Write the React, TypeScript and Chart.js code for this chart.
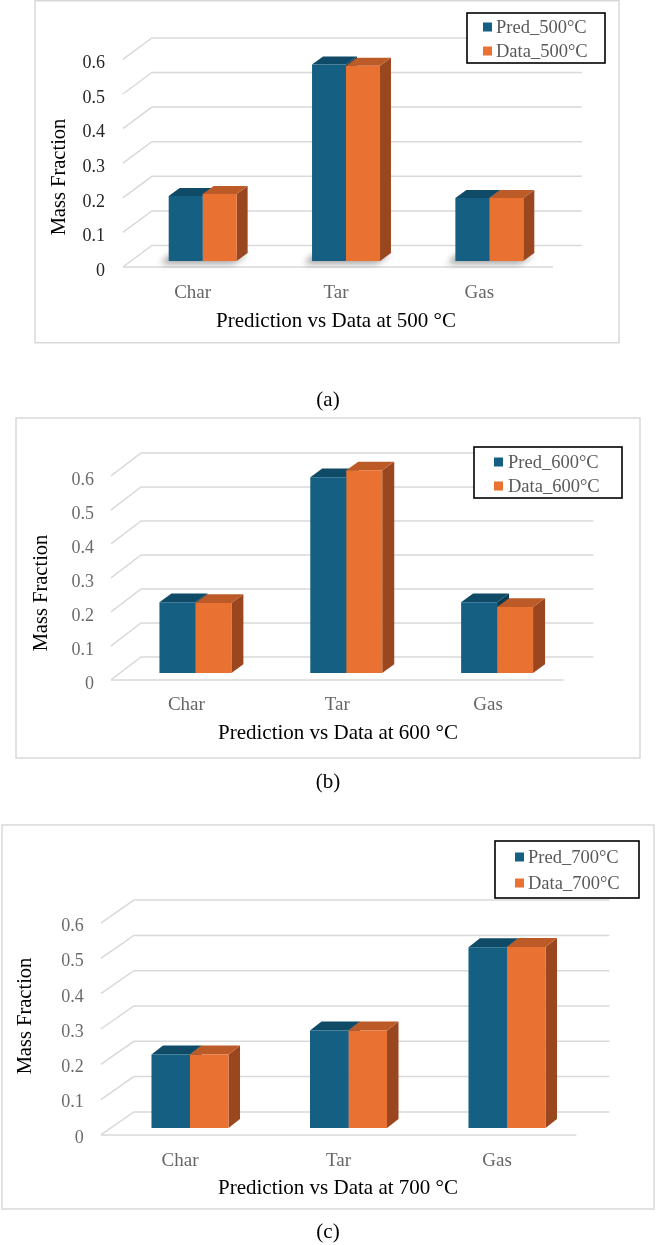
import React, { useEffect, useRef } from 'react';
import { Chart, registerables } from 'chart.js';

Chart.register(...registerables);

const FONT = '"Liberation Serif", "Times New Roman", serif';

// ---------- data ----------
const categories = ['Char', 'Tar', 'Gas'];
const yTickLabels = ['0', '0.1', '0.2', '0.3', '0.4', '0.5', '0.6'];
const yTitle = 'Mass Fraction';

const series500 = ['Pred_500°C', 'Data_500°C'];
const pred500 = [0.188, 0.568, 0.182];
const data500 = [0.194, 0.564, 0.182];

const series600 = ['Pred_600°C', 'Data_600°C'];
const pred600 = [0.208, 0.576, 0.208];
const data600 = [0.206, 0.596, 0.194];

const series700 = ['Pred_700°C', 'Data_700°C'];
const pred700 = [0.208, 0.276, 0.512];
const data700 = [0.208, 0.276, 0.513];

const xTitles = [
  'Prediction vs Data at 500 °C',
  'Prediction vs Data at 600 °C',
  'Prediction vs Data at 700 °C',
];
const captions = ['(a)', '(b)', '(c)'];

// ---------- styles / layout ----------
const COLORS = [
  { front: '#156082', top: '#0f4a66', side: '#0c3c53' },
  { front: '#E97132', top: '#bc5b27', side: '#9a4720' },
];

const XH = 45;
const W = 656;

type Panel = {
  y0: number;
  h: number;
  box: [number, number, number, number];
  area: { left: number; right: number; top: number; bottom: number };
  catPct: number;
  dx: number;
  dy: number;
  f: number;
  ddx: number;
  ddy: number;
  tickColor: string;
  tickPad: number;
  tickOff: number;
  xOff: number;
  xPad: number;
  xTitle: [number, number];
  yTitle: [number, number];
  legend: { x: number; y: number; w: number; h: number; rows: [number, number]; mx: number; tx: number };
  caption: [number, number];
  shadow: boolean;
  series: string[];
  pred: number[];
  data: number[];
};

const panels: Panel[] = [
  {
    y0: 0, h: 415, box: [35, 0.75, 584, 342],
    area: { left: 131, right: 561, top: 53.4, bottom: 261 },
    catPct: 0.474, dx: 29, dy: 21.5, f: 0.28, ddx: 11, ddy: 8,
    tickColor: '#262626', tickPad: 26, tickOff: 10, xOff: -10, xPad: 20.6,
    xTitle: [336, 321], yTitle: [60, 177],
    legend: { x: 467, y: 13, w: 138, h: 50, rows: [27, 51], mx: 483, tx: 496 },
    caption: [328, 400], shadow: true,
    series: series500, pred: pred500, data: data500,
  },
  {
    y0: 415, h: 390, box: [16, 418, 624, 340],
    area: { left: 120, right: 572.5, top: 469, bottom: 673 },
    catPct: 0.477, dx: 30, dy: 23, f: 0.3, ddx: 12, ddy: 8.7,
    tickColor: '#6b6b6b', tickPad: 26, tickOff: 11, xOff: -9, xPad: 20.6,
    xTitle: [338, 733], yTitle: [42, 593],
    legend: { x: 474, y: 447, w: 148, h: 51, rows: [462, 486], mx: 494, tx: 508 },
    caption: [328, 782], shadow: false,
    series: series600, pred: pred600, data: data600,
  },
  {
    y0: 805, h: 440, box: [2, 825, 652, 384],
    area: { left: 110.75, right: 586.25, top: 916.2, bottom: 1128 },
    catPct: 0.486, dx: 33, dy: 23, f: 0.3, ddx: 11.5, ddy: 9,
    tickColor: '#6b6b6b', tickPad: 27, tickOff: 10, xOff: -10, xPad: 21.6,
    xTitle: [338, 1188], yTitle: [26, 1016],
    legend: { x: 495, y: 841, w: 144, h: 57, rows: [857, 883], mx: 515, tx: 528 },
    caption: [328, 1232], shadow: false,
    series: series700, pred: pred700, data: data700,
  },
];

function poly(ctx: CanvasRenderingContext2D, pts: number[][], fill: string) {
  ctx.beginPath();
  ctx.moveTo(pts[0][0], pts[0][1]);
  for (let i = 1; i < pts.length; i++) ctx.lineTo(pts[i][0], pts[i][1]);
  ctx.closePath();
  ctx.fillStyle = fill;
  ctx.fill();
}

function makePlugin(p: Panel, index: number) {
  const oy = p.y0;
  return {
    id: 'fake3d' + index,
    beforeDraw(chart: any) {
      const ctx = chart.ctx as CanvasRenderingContext2D;
      ctx.save();
      ctx.strokeStyle = '#d9d9d9';
      ctx.lineWidth = 1.5;
      ctx.strokeRect(p.box[0], p.box[1] - oy, p.box[2], p.box[3]);
      ctx.restore();
    },
    beforeDatasetsDraw(chart: any) {
      const ctx = chart.ctx as CanvasRenderingContext2D;
      const ys = chart.scales.y;
      const { left, right } = chart.chartArea;
      const fdx = -p.f * p.dx, fdy = p.f * p.dy;
      const bdx = (1 - p.f) * p.dx, bdy = -(1 - p.f) * p.dy;
      ctx.save();
      ctx.strokeStyle = '#d9d9d9';
      ctx.lineWidth = 1.5;
      ys.ticks.forEach((t: any) => {
        const y = ys.getPixelForValue(t.value);
        ctx.beginPath();
        ctx.moveTo(left + fdx, y + fdy);
        ctx.lineTo(left + bdx, y + bdy);
        ctx.lineTo(right + bdx, y + bdy);
        ctx.stroke();
      });
      const y0 = ys.getPixelForValue(0);
      ctx.beginPath();
      ctx.moveTo(left + fdx, y0 + fdy);
      ctx.lineTo(right + fdx, y0 + fdy);
      ctx.stroke();

      const metas = [chart.getDatasetMeta(0), chart.getDatasetMeta(1)];
      if (p.shadow) {
        ctx.save();
        ctx.filter = 'blur(3px)';
        for (let j = 0; j < categories.length; j++) {
          const b0 = metas[0].data[j];
          const b1 = metas[1].data[j];
          const L = b0.x - b0.width / 2;
          const R = b1.x + b1.width / 2;
          const base = b0.base;
          poly(ctx, [[L - 8, base + 3], [R - 4, base + 3], [R + p.ddx, base - p.ddy + 2], [L, base - p.ddy + 2]], 'rgba(0,0,0,0.35)');
        }
        ctx.restore();
      }
      for (let j = 0; j < categories.length; j++) {
        for (let i = 0; i < 2; i++) {
          const bar = metas[i].data[j];
          const L = bar.x - bar.width / 2;
          const R = bar.x + bar.width / 2;
          const top = bar.y;
          const base = bar.base;
          poly(ctx, [[R, top], [R + p.ddx, top - p.ddy], [R + p.ddx, base - p.ddy], [R, base]], COLORS[i].side);
          poly(ctx, [[L, top], [L + p.ddx, top - p.ddy], [R + p.ddx, top - p.ddy], [R, top]], COLORS[i].top);
        }
      }
      ctx.restore();
    },
    afterDraw(chart: any) {
      const ctx = chart.ctx as CanvasRenderingContext2D;
      ctx.save();
      // axis titles
      ctx.fillStyle = '#000';
      ctx.textAlign = 'center';
      ctx.textBaseline = 'middle';
      ctx.font = `21px ${FONT}`;
      ctx.fillText(xTitles[index], p.xTitle[0], p.xTitle[1] - oy);
      ctx.save();
      ctx.translate(p.yTitle[0], p.yTitle[1] - oy);
      ctx.rotate(-Math.PI / 2);
      ctx.font = `20.5px ${FONT}`;
      ctx.fillText(yTitle, 0, 0);
      ctx.restore();
      // legend
      const lg = p.legend;
      ctx.fillStyle = '#fff';
      ctx.fillRect(lg.x, lg.y - oy, lg.w, lg.h);
      ctx.strokeStyle = '#000';
      ctx.lineWidth = 1.6;
      ctx.strokeRect(lg.x, lg.y - oy, lg.w, lg.h);
      ctx.textAlign = 'left';
      ctx.font = `18.5px ${FONT}`;
      for (let i = 0; i < 2; i++) {
        const ry = lg.rows[i] - oy;
        ctx.fillStyle = COLORS[i].front;
        ctx.fillRect(lg.mx, ry - 4.5, 9, 9);
        ctx.fillStyle = '#595959';
        ctx.fillText(p.series[i], lg.tx, ry + 1);
      }
      // caption
      ctx.fillStyle = '#000';
      ctx.textAlign = 'center';
      ctx.font = `21px ${FONT}`;
      ctx.fillText(captions[index], p.caption[0], p.caption[1] - oy);
      ctx.restore();
    },
  };
}

function ChartPanel({ p, index }: { p: Panel; index: number }) {
  const ref = useRef<HTMLCanvasElement>(null);
  useEffect(() => {
    const canvas = ref.current;
    if (!canvas) return;
    const chart = new Chart(canvas, {
      type: 'bar',
      data: {
        labels: categories,
        datasets: [
          {
            label: p.series[0],
            data: p.pred,
            backgroundColor: COLORS[0].front,
            borderWidth: 0,
            categoryPercentage: p.catPct,
            barPercentage: 1,
          },
          {
            label: p.series[1],
            data: p.data,
            backgroundColor: COLORS[1].front,
            borderWidth: 0,
            categoryPercentage: p.catPct,
            barPercentage: 1,
          },
        ],
      },
      options: {
        responsive: false,
        maintainAspectRatio: false,
        animation: false,
        devicePixelRatio: 1,
        layout: {
          padding: {
            left: 0,
            right: W - p.area.right,
            top: p.area.top - p.y0,
            bottom: p.h - (p.area.bottom - p.y0) - XH,
          },
        },
        plugins: {
          legend: { display: false },
          tooltip: { enabled: false },
          title: { display: false },
        },
        scales: {
          x: {
            type: 'category',
            grid: { display: false, drawTicks: false },
            border: { display: false },
            ticks: {
              font: { family: FONT, size: 19, lineHeight: 1.2 },
              color: '#666666',
              padding: p.xPad,
              labelOffset: p.xOff,
              maxRotation: 0,
              autoSkip: false,
            },
            afterFit: (s: any) => {
              s.height = XH;
            },
          },
          y: {
            type: 'linear',
            min: 0,
            max: 0.6,
            grid: { display: false, drawTicks: false },
            border: { display: false },
            ticks: {
              stepSize: 0.1,
              font: { family: FONT, size: 18 },
              color: p.tickColor,
              padding: p.tickPad,
              labelOffset: p.tickOff,
              callback: (v: any, i: number) => yTickLabels[i] ?? String(Math.round(Number(v) * 10) / 10),
            },
            afterFit: (s: any) => {
              s.width = p.area.left;
            },
          },
        },
      } as any,
      plugins: [makePlugin(p, index) as any],
    });
    return () => chart.destroy();
  }, [p, index]);
  return (
    <canvas
      ref={ref}
      width={W}
      height={p.h}
      style={{ position: 'absolute', left: 0, top: p.y0, width: W, height: p.h, display: 'block' }}
    />
  );
}

export default function App() {
  return (
    <div style={{ position: 'absolute', left: 0, top: 0, width: W, height: 1245, background: '#fff' }}>
      {panels.map((p, i) => (
        <ChartPanel key={i} p={p} index={i} />
      ))}
    </div>
  );
}
